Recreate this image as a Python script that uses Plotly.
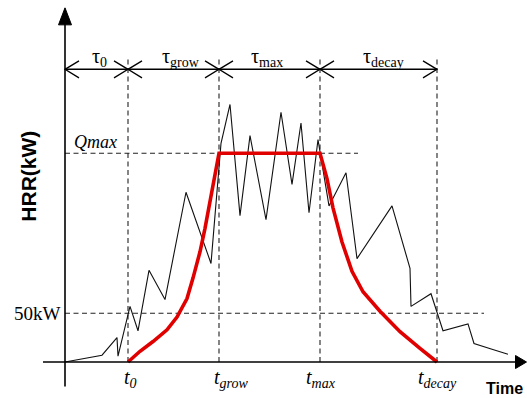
import plotly.graph_objects as go

# ---------------- data (time in s, HRR in kW; schematic units) ----------------
measured_t = [0, 37, 52, 53, 65, 73, 84, 100, 121, 146, 156, 165, 175, 185, 201, 216,
              227, 236, 244, 253, 264, 281, 292, 327, 345, 346, 366, 378, 403, 409, 427, 443]
measured_q = [0, 7, 25, 6, 57, 32, 94, 64, 174, 101, 224, 264, 150, 232, 146, 256,
              182, 245, 153, 228, 160, 194, 106, 160, 96, 57, 70, 32, 39, 19, 13, 8]

design_t = [63, 75, 88, 102, 112, 122, 128, 135, 140, 145, 150, 154,
            255, 262, 268, 277, 287, 298, 315, 335, 355, 372]
design_q = [0, 11, 21, 33, 46, 65, 86, 113, 137, 164, 192, 214,
            214, 188, 158, 123, 93, 72, 52, 31, 14, 0]

phase_times = [63, 154, 255, 372]          # t0, tgrow, tmax, tdecay
phase_names = ["0", "grow", "max", "decay"]
t_label_x = [65, 166, 256, 372]
tau_label_x = [34, 116, 202, 318]

Q_MAX = 214
Q_50 = 50

# ---------------- view range ----------------
K = 1.025                       # kW per pixel (vertical)
X_RANGE = [-65, 462]
Y_RANGE = [-36 * K, 362 * K]
DIM_Y = 300                     # level of the dimension arrows
DASH_TOP = 313

SERIF = "Liberation Serif, Times New Roman, serif"
SANS = "Liberation Sans, Arial, sans-serif"
DASH = "5px,3.5px"

fig = go.Figure()

shapes = []
# dashed vertical phase lines
for t in phase_times:
    shapes.append(dict(type="line", xref="x", yref="y", x0=t, x1=t, y0=0, y1=DASH_TOP,
                       line=dict(color="#222", width=1.1, dash=DASH), layer="below"))
# Qmax and 50 kW dashed lines
shapes.append(dict(type="line", xref="x", yref="y", x0=0, x1=293, y0=Q_MAX, y1=Q_MAX,
                   line=dict(color="#222", width=1.1, dash=DASH), layer="below"))
shapes.append(dict(type="line", xref="x", yref="y", x0=0, x1=419, y0=Q_50, y1=Q_50,
                   line=dict(color="#222", width=1.1, dash=DASH), layer="below"))

# axes
shapes.append(dict(type="line", xref="x", yref="y", x0=0, x1=0, y0=-25, y1=350,
                   line=dict(color="black", width=1.6)))
shapes.append(dict(type="line", xref="x", yref="y", x0=-22, x1=455, y0=0, y1=0,
                   line=dict(color="black", width=1.6)))
shapes.append(dict(type="path", xref="x", yref="y", xsizemode="pixel", ysizemode="pixel",
                   xanchor=0, yanchor=363, path="M0,0 L-6.5,-17 L6.5,-17 Z",
                   fillcolor="black", line=dict(color="black", width=1)))
shapes.append(dict(type="path", xref="x", yref="y", xsizemode="pixel", ysizemode="pixel",
                   xanchor=461.5, yanchor=0, path="M0,0 L-11,6.5 L-11,-6.5 Z",
                   fillcolor="black", line=dict(color="black", width=1)))

# dimension line with open arrowheads
shapes.append(dict(type="line", xref="x", yref="y", x0=0, x1=phase_times[-1], y0=DIM_Y, y1=DIM_Y,
                   line=dict(color="black", width=1.4)))
bounds = [0] + phase_times
for i, b in enumerate(bounds):
    parts = []
    if i > 0:          # arrowhead of the segment on the left (points right)
        parts.append("M-14,8.5 L0,0 L-14,-8.5")
    if i < len(bounds) - 1:   # arrowhead of the segment on the right (points left)
        parts.append("M14,8.5 L0,0 L14,-8.5")
    shapes.append(dict(type="path", xref="x", yref="y", xsizemode="pixel", ysizemode="pixel",
                       xanchor=b, yanchor=DIM_Y, path=" ".join(parts),
                       line=dict(color="black", width=1.3)))

fig.update_layout(shapes=shapes)

# measured (noisy) HRR curve
fig.add_trace(go.Scatter(x=measured_t, y=measured_q, mode="lines",
                         line=dict(color="#111", width=1.1), hoverinfo="skip"))
# design fire curve
fig.add_trace(go.Scatter(x=design_t, y=design_q, mode="lines",
                         line=dict(color="#e00000", width=3.6), hoverinfo="skip"))

ann = []
for name, x in zip(phase_names, tau_label_x):
    ann.append(dict(x=x, y=312, xref="x", yref="y", showarrow=False,
                    text="τ<sub>%s</sub>" % name, font=dict(family=SERIF, size=20, color="black")))
for name, x in zip(phase_names, t_label_x):
    ann.append(dict(x=x, y=-17, xref="x", yref="y", showarrow=False,
                    text="<i>t<sub>%s</sub></i>" % name, font=dict(family=SERIF, size=20, color="black")))
ann.append(dict(x=30, y=Q_MAX + 11, xref="x", yref="y", showarrow=False,
                text="<i>Qmax</i>", font=dict(family=SERIF, size=18, color="black")))
ann.append(dict(x=-2, y=Q_50, xref="x", yref="y", showarrow=False, xanchor="right",
                text="50kW", font=dict(family=SERIF, size=19, color="black")))
ann.append(dict(x=-36, y=190, xref="x", yref="y", showarrow=False, textangle=-90,
                text="<b>HRR(kW)</b>", font=dict(family=SANS, size=21, color="black")))
ann.append(dict(x=439, y=-27, xref="x", yref="y", showarrow=False, borderpad=0,
                text="<b>Time</b>", font=dict(family=SANS, size=16, color="black")))

fig.update_layout(
    annotations=ann,
    width=527, height=398,
    margin=dict(l=0, r=0, t=0, b=0),
    paper_bgcolor="white", plot_bgcolor="white",
    showlegend=False,
    xaxis=dict(range=X_RANGE, visible=False, fixedrange=True),
    yaxis=dict(range=Y_RANGE, visible=False, fixedrange=True),
)

fig.write_html("out.html", config={"displayModeBar": False},
               post_script="document.body.style.margin='0';")
